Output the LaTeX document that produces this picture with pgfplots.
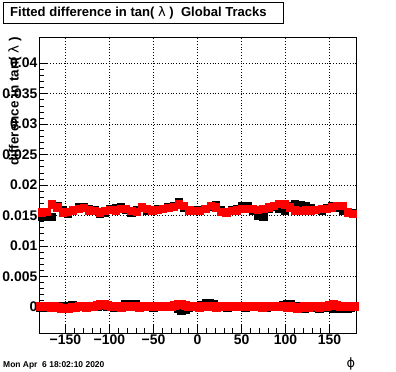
\documentclass[border=0pt]{standalone}
\usepackage{pgfplots}
\pgfplotsset{compat=1.18}
\usepackage{pgfplotstable}
\usepackage{fontspec}
\setmainfont{Liberation Sans}
\newfontfamily\dv{DejaVu Sans}

\pgfplotstableread{
x b r
-177 0.0147 0.0155
-171 0.0148 0.0156
-165 0.0147 0.0168
-159 0.0166 0.0163
-153 0.0158 0.0155
-147 0.0153 0.0156
-141 0.0157 0.0158
-135 0.0163 0.0161
-129 0.0163 0.0162
-123 0.0160 0.0158
-117 0.0159 0.0157
-111 0.0153 0.0155
-105 0.0155 0.0157
-99 0.0160 0.0159
-93 0.0162 0.0158
-87 0.0164 0.0161
-81 0.0159 0.0160
-75 0.0155 0.0157
-69 0.0158 0.0156
-63 0.0164 0.0163
-57 0.0157 0.0160
-51 0.0159 0.0158
-45 0.0161 0.0159
-39 0.0160 0.0161
-33 0.0163 0.0162
-27 0.0166 0.0164
-21 0.0172 0.0168
-15 0.0162 0.0165
-9 0.0157 0.0158
-3 0.0158 0.0157
3 0.0158 0.0157
9 0.0161 0.0160
15 0.0164 0.0165
21 0.0167 0.0163
27 0.0158 0.0156
33 0.0156 0.0155
39 0.0158 0.0157
45 0.0161 0.0158
51 0.0166 0.0160
57 0.0165 0.0160
63 0.0157 0.0161
69 0.0150 0.0159
75 0.0147 0.0160
81 0.0160 0.0163
87 0.0164 0.0166
93 0.0160 0.0169
99 0.0158 0.0168
105 0.0166 0.0163
111 0.0168 0.0158
117 0.0167 0.0157
123 0.0166 0.0158
129 0.0162 0.0158
135 0.0159 0.0159
141 0.0158 0.0160
147 0.0162 0.0161
153 0.0165 0.0163
159 0.0163 0.0165
165 0.0158 0.0166
171 0.0156 0.0155
177 0.0154 0.0153
}\uptab

\pgfplotstableread{
x b r
-178 -0.0001 0.0000
-174 0.0000 0.0001
-170 -0.0001 0.0000
-166 0.0000 -0.0001
-162 -0.0001 0.0000
-158 0.0000 -0.0001
-154 -0.0001 -0.0002
-150 0.0000 -0.0002
-146 0.0001 -0.0002
-142 0.0002 -0.0001
-138 0.0001 -0.0001
-134 0.0000 0.0000
-130 0.0001 0.0000
-126 0.0000 -0.0001
-122 0.0000 0.0000
-118 0.0000 0.0001
-114 0.0001 0.0002
-110 0.0002 0.0003
-106 0.0002 0.0003
-102 0.0001 0.0002
-98 0.0000 0.0001
-94 -0.0001 0.0000
-90 0.0000 0.0000
-86 0.0001 -0.0001
-82 0.0003 0.0000
-78 0.0004 0.0000
-74 0.0004 0.0001
-70 0.0003 0.0000
-66 0.0001 -0.0001
-62 0.0000 0.0000
-58 0.0001 0.0000
-54 0.0000 0.0001
-50 -0.0001 0.0000
-46 0.0000 0.0000
-42 0.0001 0.0001
-38 0.0000 0.0001
-34 0.0000 0.0000
-30 0.0001 0.0001
-26 0.0000 0.0002
-22 -0.0003 0.0003
-18 -0.0006 0.0003
-14 -0.0004 0.0002
-10 -0.0001 0.0001
-6 0.0000 0.0000
-2 0.0001 0.0000
2 0.0000 -0.0001
6 0.0002 0.0000
10 0.0005 0.0001
14 0.0006 0.0000
18 0.0003 0.0000
22 0.0001 -0.0001
26 0.0000 0.0000
30 0.0000 0.0001
34 -0.0001 0.0000
38 0.0000 0.0000
42 0.0001 0.0001
46 0.0000 0.0001
50 0.0000 0.0000
54 -0.0001 0.0000
58 0.0000 0.0001
62 0.0000 0.0001
66 0.0001 0.0000
70 0.0000 0.0000
74 -0.0001 -0.0001
78 -0.0001 0.0000
82 0.0000 0.0001
86 0.0001 0.0000
90 0.0001 0.0000
94 0.0000 0.0001
98 0.0002 0.0000
102 0.0004 -0.0001
106 0.0003 0.0000
110 0.0001 -0.0001
114 0.0000 -0.0002
118 -0.0001 -0.0001
122 -0.0002 0.0000
126 -0.0001 -0.0001
130 0.0000 0.0000
134 -0.0001 0.0000
138 -0.0002 -0.0001
142 -0.0001 0.0000
146 0.0000 0.0001
150 -0.0001 0.0002
154 -0.0002 0.0003
158 -0.0003 0.0002
162 -0.0002 0.0001
166 -0.0001 0.0001
170 -0.0002 0.0000
174 -0.0001 0.0001
178 0.0000 0.0001
}\lowtab

\begin{document}
\begin{tikzpicture}
\path[use as bounding box] (0,0) rectangle (396bp,372bp);
\begin{axis}[
  at={(39bp,39bp)}, anchor=south west,
  scale only axis, width=317bp, height=296bp,
  xmin=-180, xmax=180, ymin=-0.0043, ymax=0.0443,
  axis line style={line width=0.8bp},
  xtick={-150,-100,-50,0,50,100,150},
  xticklabels={−150,−100,−50,0,50,100,150},
  ytick={0,0.005,0.01,0.015,0.02,0.025,0.03,0.035,0.04},
  yticklabels={0,0.005,0.01,0.015,0.02,0.025,0.03,0.035,0.04},
  scaled y ticks=false,
  minor x tick num=4, minor y tick num=4,
  xtick pos=lower, ytick pos=left, tick align=inside,
  major tick length=9bp, minor tick length=4.5bp,
  tick style={black, line width=0.6bp},
  grid=major,
  major grid style={black, line width=0.6bp, dash pattern=on 0.8bp off 2bp},
  xticklabel style={font=\bfseries\fontsize{14}{15}\selectfont, inner sep=1bp, yshift=-1bp},
  yticklabel style={font=\bfseries\fontsize{14}{15}\selectfont, inner sep=1bp, xshift=-0.5bp},
  clip=true,
]
\addplot[black, only marks, mark=square*, mark size=3.6bp, mark options={solid, draw=black, fill=black, line width=0pt}] table[x=x, y=b] {\uptab};
\addplot[red, only marks, mark=square*, mark size=3.6bp, mark options={solid, draw=red, fill=red, line width=0pt}] table[x=x, y=r] {\uptab};
\addplot[black, only marks, mark=square*, mark size=4bp, mark options={solid, draw=black, fill=black, line width=0pt}] table[x=x, y=b] {\lowtab};
\addplot[red, only marks, mark=square*, mark size=4bp, mark options={solid, draw=red, fill=red, line width=0pt}] table[x=x, y=r] {\lowtab};
\end{axis}
\draw[line width=0.8bp] (3bp,370bp) rectangle (283bp,349bp);
\node[anchor=west, inner sep=0pt, font=\bfseries\fontsize{13.1}{15}\selectfont] at (10bp,359.5bp) {Fitted difference in tan( {\mdseries\dv λ} )\ \ Global Tracks};
\node[rotate=90, anchor=east, inner sep=0pt, font=\bfseries\fontsize{13.5}{15}\selectfont] at (15bp,335bp) {difference in tan( {\mdseries\dv λ} )};
\node[anchor=west, inner sep=0pt, font=\bfseries\fontsize{8.5}{10}\selectfont] at (3bp,7bp) {Mon Apr\ \ 6 18:02:10 2020};
\node[inner sep=0pt, font=\fontsize{13}{15}\selectfont\dv] at (351bp,8bp) {ϕ};
\end{tikzpicture}
\end{document}
